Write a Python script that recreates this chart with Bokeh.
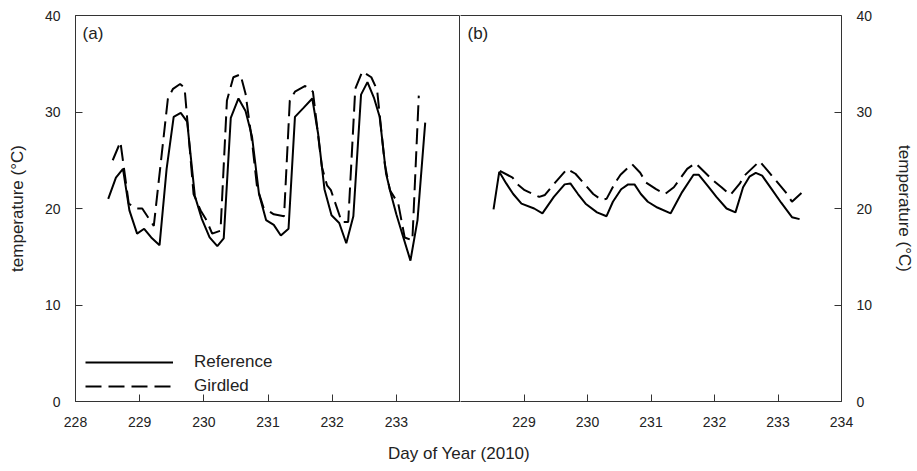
from bokeh.plotting import figure
from bokeh.layouts import row, column
from bokeh.models import Range1d, FixedTicker, Label, Legend, LegendItem, LinearAxis
from bokeh.embed import file_html
from bokeh.resources import INLINE

# ---------------- data ----------------
# Panel (a)
a_ref_day = [228.51, 228.63, 228.74, 228.84, 228.96, 229.07, 229.18, 229.31, 229.42, 229.53,
             229.64, 229.74, 229.86, 229.97, 230.09, 230.21, 230.31, 230.42, 230.54, 230.65,
             230.75, 230.86, 230.97, 231.09, 231.20, 231.32, 231.42, 231.55, 231.69, 231.78,
             231.88, 231.99, 232.11, 232.22, 232.33, 232.45, 232.55, 232.65, 232.74, 232.84,
             232.92, 233.00, 233.10, 233.22, 233.33, 233.45]
a_ref_temp = [21.0, 23.2, 24.1, 19.8, 17.4, 17.9, 17.0, 16.2, 24.1, 29.5,
              29.9, 29.0, 21.3, 18.9, 17.0, 16.1, 16.9, 29.4, 31.4, 30.1,
              27.5, 21.5, 18.8, 18.3, 17.2, 17.9, 29.5, 30.4, 31.4, 27.8,
              22.0, 19.3, 18.5, 16.4, 19.2, 31.8, 33.1, 31.5, 29.5, 23.6,
              21.4, 19.4, 17.2, 14.6, 18.8, 28.9]

a_gir_day = [228.58, 228.70, 228.83, 228.96, 229.04, 229.22, 229.44, 229.52, 229.63, 229.70,
             229.84, 229.95, 230.04, 230.13, 230.26, 230.36, 230.46, 230.57, 230.65, 230.75,
             230.83, 230.93, 231.09, 231.25, 231.34, 231.42, 231.58, 231.70, 231.84, 231.92,
             231.98, 232.15, 232.25, 232.36, 232.47, 232.61, 232.70, 232.82, 232.90, 233.03,
             233.13, 233.25, 233.35]
a_gir_temp = [25.0, 26.9, 20.5, 20.0, 20.0, 18.2, 31.4, 32.4, 32.9, 32.5,
              21.5, 19.8, 18.8, 17.4, 17.7, 31.2, 33.6, 33.9, 31.9, 27.0,
              22.2, 20.1, 19.4, 19.2, 31.2, 32.1, 32.7, 32.1, 24.3, 22.4,
              21.9, 18.6, 18.6, 32.4, 34.2, 33.6, 32.3, 24.6, 21.9, 20.5,
              17.0, 16.7, 31.7]

# Panel (b)
b_ref_day = [228.52, 228.61, 228.72, 228.83, 228.96, 229.16, 229.29, 229.47, 229.64, 229.73,
             229.85, 229.97, 230.15, 230.30, 230.40, 230.53, 230.64, 230.74, 230.84, 230.95,
             231.10, 231.31, 231.49, 231.67, 231.75, 231.90, 232.03, 232.19, 232.33, 232.45,
             232.55, 232.65, 232.75, 232.90, 233.05, 233.22, 233.34]
b_ref_temp = [19.9, 23.8, 22.6, 21.5, 20.5, 20.0, 19.5, 21.2, 22.5, 22.6,
              21.5, 20.5, 19.6, 19.2, 20.7, 22.0, 22.5, 22.5, 21.5, 20.7,
              20.1, 19.5, 21.7, 23.5, 23.5, 22.3, 21.2, 20.0, 19.6, 22.2,
              23.3, 23.7, 23.4, 22.0, 20.6, 19.1, 18.9]

b_gir_day = [228.62, 228.82, 228.90, 229.01, 229.24, 229.33, 229.44, 229.68, 229.81, 230.09,
             230.22, 230.30, 230.43, 230.52, 230.70, 230.83, 230.92, 231.08, 231.22, 231.36,
             231.57, 231.70, 231.98, 232.11, 232.25, 232.40, 232.47, 232.71, 232.84, 233.12,
             233.22, 233.37]
b_gir_temp = [23.9, 23.2, 22.5, 21.9, 21.2, 21.4, 22.3, 24.1, 23.6, 21.5,
              20.9, 21.0, 22.6, 23.5, 24.6, 23.7, 22.7, 22.0, 21.5, 22.2,
              24.1, 24.7, 22.9, 22.2, 21.4, 22.6, 23.4, 24.9, 23.9, 21.7,
              20.7, 21.6]

a_xticks = [228, 229, 230, 231, 232, 233]
b_xticks = [229, 230, 231, 232, 233, 234]
y_ticks = [0, 10, 20, 30, 40]
series_names = ["Reference", "Girdled"]
y_label = "temperature (°C)"
x_label = "Day of Year (2010)"

# ---------------- styling ----------------
FONT = "Liberation Sans"
TXT = "#222222"
AX = "#333333"
DASH = "16 7"
LW = 2


def style_axis(ax, ticks):
    ax.ticker = FixedTicker(ticks=ticks)
    ax.minor_tick_line_color = None
    ax.major_tick_in = 7
    ax.major_tick_out = 0
    ax.major_tick_line_color = AX
    ax.axis_line_color = AX
    ax.major_label_text_font = FONT
    ax.major_label_text_font_size = "14px"
    ax.major_label_text_color = TXT
    ax.major_label_standoff = 15
    ax.axis_label_text_font = FONT
    ax.axis_label_text_font_size = "17px"
    ax.axis_label_text_font_style = "normal"
    ax.axis_label_text_color = TXT
    ax.axis_label_standoff = 15


def base_fig(width, left, right, yloc):
    p = figure(width=width, height=431, output_backend="svg", toolbar_location=None,
               x_range=Range1d(228, 234), y_range=Range1d(0, 40),
               y_axis_location=yloc, min_border_left=left, min_border_right=right,
               min_border_top=15, min_border_bottom=30)
    p.xgrid.visible = False
    p.ygrid.visible = False
    p.background_fill_color = "white"
    p.border_fill_color = "white"
    return p


# ---------------- panel (a) ----------------
pa = base_fig(460, 75, 0, "left")
pa.outline_line_color = AX
pa.outline_line_width = 1
style_axis(pa.xaxis[0], a_xticks)
style_axis(pa.yaxis[0], y_ticks)
pa.yaxis[0].axis_label = y_label
ra = pa.line(a_ref_day, a_ref_temp, line_color="black", line_width=LW)
ga = pa.line(a_gir_day, a_gir_temp, line_color="black", line_width=LW, line_dash=DASH)
pa.add_layout(Label(x=228.11, y=38.1, text="(a)", text_font=FONT, text_font_size="17px",
                    text_color=TXT, text_baseline="middle"))
leg = Legend(items=[LegendItem(label=series_names[0], renderers=[ra]),
                    LegendItem(label=series_names[1], renderers=[ga])],
             location=(10, 5), padding=0, margin=0, spacing=4,
             glyph_width=88, glyph_height=20, label_height=20, label_standoff=21,
             label_text_font=FONT, label_text_font_size="17px", label_text_color=TXT,
             border_line_color=None, background_fill_alpha=0)
pa.add_layout(leg)

# ---------------- panel (b) ----------------
pb = base_fig(457, 0, 71, "right")
pb.outline_line_color = None  # left edge is drawn by panel (a)'s frame
style_axis(pb.xaxis[0], b_xticks)
style_axis(pb.yaxis[0], y_ticks)
pb.yaxis[0].axis_label = y_label
pb.yaxis[0].axis_label_standoff = 20
top = LinearAxis(ticker=FixedTicker(ticks=[]), axis_line_color=AX,
                 major_tick_line_color=None, minor_tick_line_color=None,
                 major_label_text_color=None)
pb.add_layout(top, "above")
pb.line(b_ref_day, b_ref_temp, line_color="black", line_width=LW)
pb.line(b_gir_day, b_gir_temp, line_color="black", line_width=LW, line_dash=DASH)
pb.add_layout(Label(x=228.11, y=38.1, text="(b)", text_font=FONT, text_font_size="17px",
                    text_color=TXT, text_baseline="middle"))

# ---------------- shared x label ----------------
pl = figure(width=917, height=32, output_backend="svg", toolbar_location=None,
            x_range=Range1d(0, 1), y_range=Range1d(0, 1),
            min_border=0, outline_line_color=None)
pl.axis.visible = False
pl.grid.visible = False
pl.add_layout(Label(x=0.5, y=0.31, text=x_label, text_font=FONT, text_font_size="17px",
                    text_color=TXT, text_align="center", text_baseline="middle"))

layout = column(row(pa, pb), pl)
open("out.html", "w").write(file_html(layout, INLINE))
